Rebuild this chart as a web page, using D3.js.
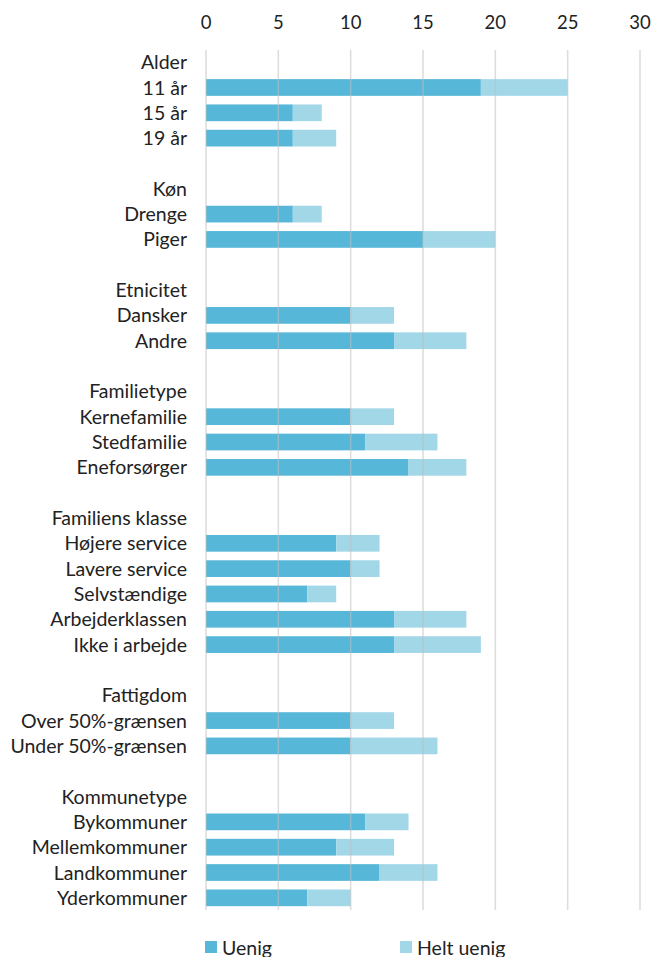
<!DOCTYPE html>
<html><head><meta charset="utf-8">
<script src="https://cdn.jsdelivr.net/npm/d3@7"></script>
<style>body{margin:0;background:#fff}svg{display:block}text{font-family:Lato,"Open Sans",sans-serif;fill:#222}</style>
</head><body>
<svg id="c" width="654" height="957"></svg>
<script>
// rows: header rows have null values; "" are spacer rows
const categories = ["Alder","11 år","15 år","19 år","",
  "Køn","Drenge","Piger","",
  "Etnicitet","Dansker","Andre","",
  "Familietype","Kernefamilie","Stedfamilie","Eneforsørger","",
  "Familiens klasse","Højere service","Lavere service","Selvstændige","Arbejderklassen","Ikke i arbejde","",
  "Fattigdom","Over 50%-grænsen","Under 50%-grænsen","",
  "Kommunetype","Bykommuner","Mellemkommuner","Landkommuner","Yderkommuner"];
const uenig = [null,19,6,6,null, null,6,15,null, null,10,13,null, null,10,11,14,null,
  null,9,10,7,13,13,null, null,10,10,null, null,11,9,12,7];
const heltUenig = [null,6,2,3,null, null,2,5,null, null,3,5,null, null,3,5,4,null,
  null,3,2,2,5,6,null, null,3,6,null, null,3,4,4,3];
const ticks = [0,5,10,15,20,25,30];
const seriesNames = ["Uenig","Helt uenig"];
const colors = ["#57b7d8","#a2d7e8"];

const svg = d3.select("#c");
const x = d3.scaleLinear().domain([0,30]).range([206,640]);
const ids = categories.map((c,i)=>i);
const y = d3.scaleBand().domain(ids).range([49.5,910.5]).paddingInner(0.34).paddingOuter(0.17);

// tick labels
svg.append("g").selectAll("text").data(ticks).join("text")
  .attr("x",d=>x(d)).attr("y",29).attr("text-anchor","middle")
  .style("font-size","18.5px").text(d=>d);

// bars
const rows = ids.filter(i=>uenig[i]!=null);
const g = svg.append("g");
g.selectAll("rect.u").data(rows).join("rect").attr("class","u")
  .attr("x",x(0)).attr("y",i=>y(i)).attr("width",i=>x(uenig[i])-x(0)).attr("height",y.bandwidth())
  .attr("fill",colors[0]);
g.selectAll("rect.h").data(rows).join("rect").attr("class","h")
  .attr("x",i=>x(uenig[i])).attr("y",i=>y(i)).attr("width",i=>x(uenig[i]+heltUenig[i])-x(uenig[i])).attr("height",y.bandwidth())
  .attr("fill",colors[1]);

// gridlines (drawn faintly over bars)
svg.append("g").selectAll("line").data(ticks).join("line")
  .attr("x1",d=>x(d)).attr("x2",d=>x(d)).attr("y1",50).attr("y2",910)
  .attr("stroke","#bfbfbf").attr("stroke-opacity",0.55).attr("stroke-width",1.5);

// category labels
svg.append("g").selectAll("text").data(ids.filter(i=>categories[i]!=="")).join("text")
  .attr("x",187).attr("y",i=>y(i)+y.bandwidth()/2).attr("dy","0.36em")
  .attr("text-anchor","end").style("font-size","19.5px").text(i=>categories[i]);

// legend
const lx = [205,400];
const lg = svg.append("g");
seriesNames.forEach((s,k)=>{
  lg.append("rect").attr("x",lx[k]).attr("y",941).attr("width",12).attr("height",12).attr("fill",colors[k]);
  lg.append("text").attr("x",lx[k]+17).attr("y",955).style("font-size","19.5px").text(s);
});
</script>
</body></html>
